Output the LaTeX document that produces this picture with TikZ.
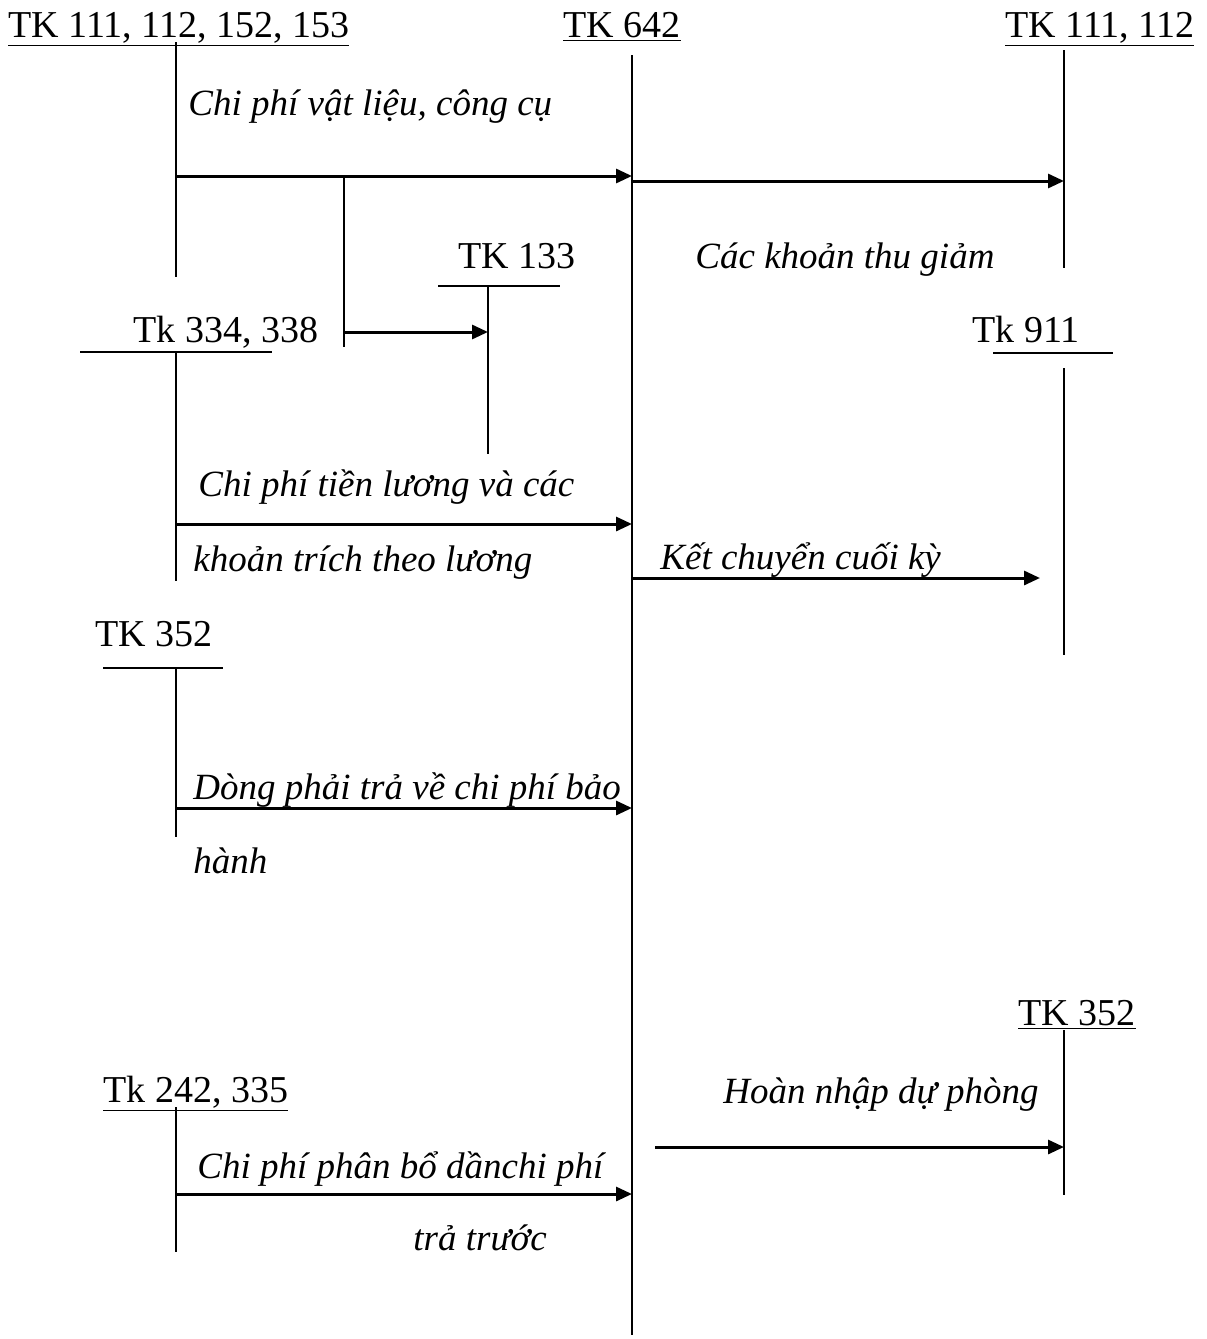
\documentclass[tikz,border=0pt]{standalone}
\usepackage{fontspec}
\setmainfont{Liberation Serif}
\usetikzlibrary{arrows.meta}
\tikzset{
  lbl/.style={inner sep=0pt, anchor=base west, font=\fontsize{19}{22}\selectfont},
  itl/.style={inner sep=0pt, anchor=base west, font=\fontsize{18.5}{22}\selectfont\itshape},
  acct/.style={line width=0.9pt},
  flow/.style={line width=1.5pt, -{Triangle[length=8pt,width=7pt]}},
}
\begin{document}
\begin{tikzpicture}[x=0.5pt,y=-0.5pt]
\useasboundingbox (0,0) rectangle (1206,1339);
% headers
\node[lbl] (h1) at (8,37) {\underline{TK 111, 112, 152, 153}};
\node[lbl] (h2) at (563,37) {\underline{TK 642}};
\node[lbl] (h3) at (1005,37) {\underline{TK 111, 112}};
% main account line TK 642
\coordinate (m1) at (632,55);
\coordinate (m2) at (632,1335);
\draw[acct] (m1) -- (m2);
% TK 111,112,152,153
\coordinate (a1t) at (176,42);
\coordinate (a1b) at (176,277);
\draw[acct] (a1t) -- (a1b);
\node[itl] (t1) at (188,115) {Chi phí vật liệu, công cụ};
\coordinate (f1s) at (176,176);
\coordinate (f1e) at (632,176);
\draw[flow] (f1s) -- (f1e);
\coordinate (br1) at (344,176);
\coordinate (br2) at (344,347);
\draw[acct] (br1) -- (br2);
\coordinate (f2s) at (344,332);
\coordinate (f2e) at (488,332);
\draw[flow] (f2s) -- (f2e);
% TK 111, 112 right
\coordinate (r1t) at (1064,50);
\coordinate (r1b) at (1064,268);
\draw[acct] (r1t) -- (r1b);
\coordinate (f3s) at (632,181);
\coordinate (f3e) at (1064,181);
\draw[flow] (f3s) -- (f3e);
\node[itl] (t2) at (695,268) {Các khoản thu giảm};
% TK 133
\node[lbl] (h4) at (458,268) {TK 133};
\coordinate (b4l) at (438,286);
\coordinate (b4r) at (560,286);
\draw[acct] (b4l) -- (b4r);
\coordinate (a4t) at (488,286);
\coordinate (a4b) at (488,454);
\draw[acct] (a4t) -- (a4b);
% Tk 334, 338
\node[lbl] (h5) at (133,342) {Tk 334, 338};
\coordinate (b5l) at (80,352);
\coordinate (b5r) at (272,352);
\draw[acct] (b5l) -- (b5r);
\coordinate (a5t) at (176,352);
\coordinate (a5b) at (176,581);
\draw[acct] (a5t) -- (a5b);
\node[itl] (t3) at (198,496) {Chi phí tiền lương và các};
\node[itl] (t4) at (193,571) {khoản trích theo lương};
\coordinate (f4s) at (176,524);
\coordinate (f4e) at (632,524);
\draw[flow] (f4s) -- (f4e);
% Tk 911
\node[lbl] (h6) at (972,342) {Tk 911};
\coordinate (b6l) at (993,353);
\coordinate (b6r) at (1113,353);
\draw[acct] (b6l) -- (b6r);
\coordinate (a6t) at (1064,368);
\coordinate (a6b) at (1064,655);
\draw[acct] (a6t) -- (a6b);
\node[itl] (t5) at (660,569) {Kết chuyển cuối kỳ};
\coordinate (f5s) at (632,578);
\coordinate (f5e) at (1040,578);
\draw[flow] (f5s) -- (f5e);
% TK 352 left
\node[lbl] (h7) at (95,646) {TK 352};
\coordinate (b7l) at (103,668);
\coordinate (b7r) at (223,668);
\draw[acct] (b7l) -- (b7r);
\coordinate (a7t) at (176,668);
\coordinate (a7b) at (176,837);
\draw[acct] (a7t) -- (a7b);
\node[itl] (t6) at (193,799) {Dòng phải trả về chi phí bảo};
\node[itl] (t7) at (193,873) {hành};
\coordinate (f6s) at (176,808);
\coordinate (f6e) at (632,808);
\draw[flow] (f6s) -- (f6e);
% TK 352 right
\node[lbl] (h8) at (1018,1025) {\underline{TK 352}};
\coordinate (a8t) at (1064,1030);
\coordinate (a8b) at (1064,1195);
\draw[acct] (a8t) -- (a8b);
\node[itl] (t8) at (723,1103) {Hoàn nhập dự phòng};
\coordinate (f7s) at (655,1147);
\coordinate (f7e) at (1064,1147);
\draw[flow] (f7s) -- (f7e);
% Tk 242, 335
\node[lbl] (h9) at (103,1102) {\underline{Tk 242, 335}};
\coordinate (a9t) at (176,1107);
\coordinate (a9b) at (176,1252);
\draw[acct] (a9t) -- (a9b);
\node[itl] (t9) at (197,1178) {Chi phí phân bổ dầnchi phí};
\node[itl] (t10) at (413,1250) {trả trước};
\coordinate (f8s) at (176,1194);
\coordinate (f8e) at (632,1194);
\draw[flow] (f8s) -- (f8e);
\end{tikzpicture}
\end{document}
